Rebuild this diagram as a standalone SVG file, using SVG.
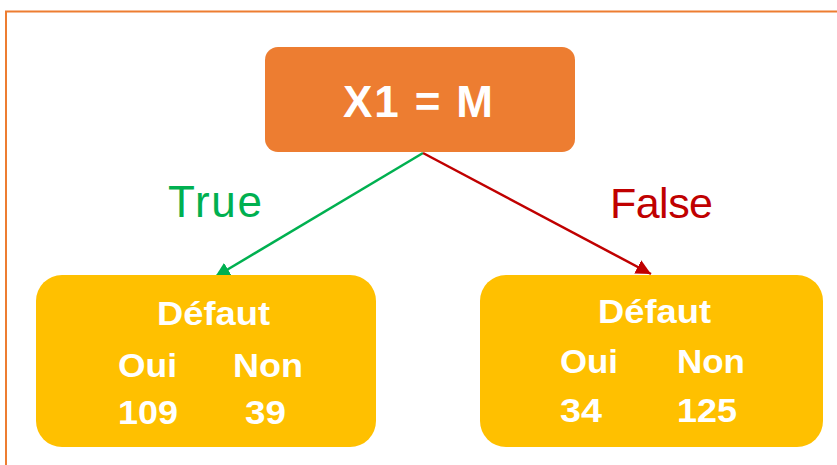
<svg xmlns="http://www.w3.org/2000/svg" width="837" height="465" viewBox="0 0 837 465">
<style>
.lbl{font-family:"Liberation Sans",Arial,sans-serif;font-weight:bold;fill:#fff;font-size:33px}
.edge{font-family:"Liberation Sans",Arial,sans-serif}
</style>
<defs>
<marker id="ag" viewBox="0 0 10 10" refX="10" refY="5" markerWidth="6" markerHeight="6" orient="auto" markerUnits="strokeWidth"><path d="M0,0L10,5L0,10z" fill="#00B050"/></marker>
<marker id="ar" viewBox="0 0 10 10" refX="10" refY="5" markerWidth="6" markerHeight="6" orient="auto" markerUnits="strokeWidth"><path d="M0,0L10,5L0,10z" fill="#C00000"/></marker>
</defs>
<rect width="837" height="465" fill="#fff"/>
<path d="M6,465V11.5H837" fill="none" stroke="#ED7D31" stroke-width="2"/>
<g id="connectors">
<line x1="423" y1="153" x2="215" y2="277" stroke="#00B050" stroke-width="2.5" marker-end="url(#ag)"/>
<line x1="423" y1="153" x2="651" y2="274" stroke="#C00000" stroke-width="2.5" marker-end="url(#ar)"/>
<text class="edge" x="168" y="217" font-size="44" fill="#00B050" textLength="94">True</text>
<text class="edge" x="610" y="218" font-size="43" fill="#C00000" textLength="103">False</text>
</g>
<g id="root">
<rect x="265" y="47" width="310" height="105" rx="13" fill="#ED7D31"/>
<text class="lbl" x="418" y="117" style="font-size:44px" text-anchor="middle" textLength="150">X1 = M</text>
</g>
<g id="left">
<rect x="36" y="275" width="340" height="172" rx="26" fill="#FFC000"/>
<text class="lbl" x="157" y="325" textLength="113" lengthAdjust="spacingAndGlyphs">Défaut</text>
<text class="lbl" x="118" y="377" textLength="59" lengthAdjust="spacingAndGlyphs">Oui</text>
<text class="lbl" x="233" y="377" textLength="70" lengthAdjust="spacingAndGlyphs">Non</text>
<text class="lbl" x="118" y="424" textLength="60" lengthAdjust="spacingAndGlyphs">109</text>
<text class="lbl" x="245" y="424" textLength="41" lengthAdjust="spacingAndGlyphs">39</text>
</g>
<g id="right">
<rect x="480" y="275" width="343" height="172" rx="26" fill="#FFC000"/>
<text class="lbl" x="598" y="323" textLength="113" lengthAdjust="spacingAndGlyphs">Défaut</text>
<text class="lbl" x="560" y="373" textLength="58" lengthAdjust="spacingAndGlyphs">Oui</text>
<text class="lbl" x="677" y="373" textLength="68" lengthAdjust="spacingAndGlyphs">Non</text>
<text class="lbl" x="560" y="422" textLength="42" lengthAdjust="spacingAndGlyphs">34</text>
<text class="lbl" x="677" y="422" textLength="60" lengthAdjust="spacingAndGlyphs">125</text>
</g>
</svg>
